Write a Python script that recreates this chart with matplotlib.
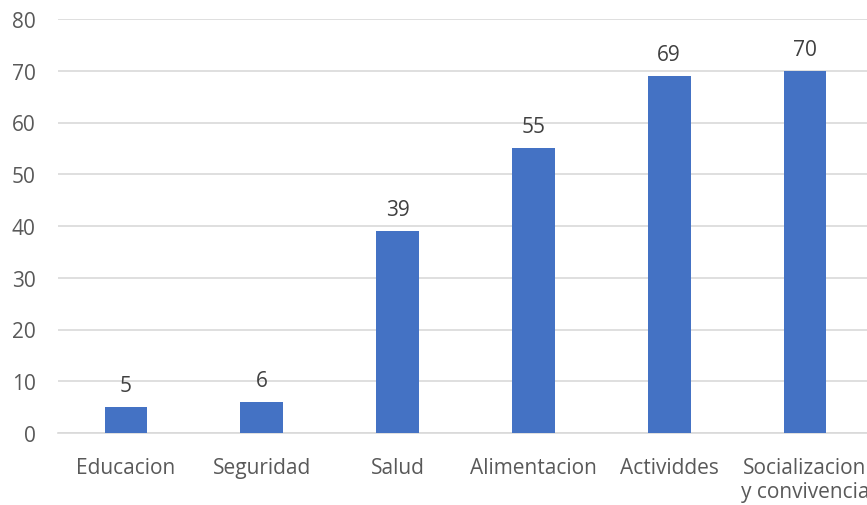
import numpy as np
import matplotlib.pyplot as plt

plt.rcParams['font.family'] = ['Open Sans', 'DejaVu Sans']

# datos
categorias = ['Educacion', 'Seguridad', 'Salud', 'Alimentacion', 'Actividdes', 'Socializacion\ny convivencia']
valores = [5, 6, 39, 55, 69, 70]
yticks = [0, 10, 20, 30, 40, 50, 60, 70, 80]

gris = '#595959'
azul = '#4472C4'

fig = plt.figure(figsize=(8.67, 5.06), dpi=100)
ax = fig.add_axes([58 / 867, 72 / 506, 815 / 867, 414 / 506])

x = np.arange(len(categorias))
barras = ax.bar(x, valores, width=0.315, color=azul, zorder=3)

# etiquetas de datos encima de las barras
for xi, v in zip(x, valores):
    ax.annotate(str(v), xy=(xi, v), xytext=(0, 8), textcoords='offset points',
                ha='center', va='bottom', fontsize=15, color='#404040')

ax.set_xlim(-0.5, len(categorias) - 0.5)
ax.set_ylim(0, 80)
ax.set_yticks(yticks)
ax.yaxis.grid(True, color='#d9d9d9', linewidth=1.2, zorder=0)
ax.set_xticks(x)
ax.set_xticklabels(categorias, linespacing=1.2)
ax.tick_params(axis='both', length=0, labelsize=15, colors=gris)
ax.tick_params(axis='x', pad=17)
ax.tick_params(axis='y', pad=16)
for lado in ['top', 'right', 'left']:
    ax.spines[lado].set_visible(False)
ax.spines['bottom'].set_color('#d9d9d9')
ax.spines['bottom'].set_linewidth(1.2)

plt.savefig('out.png', dpi=100)
